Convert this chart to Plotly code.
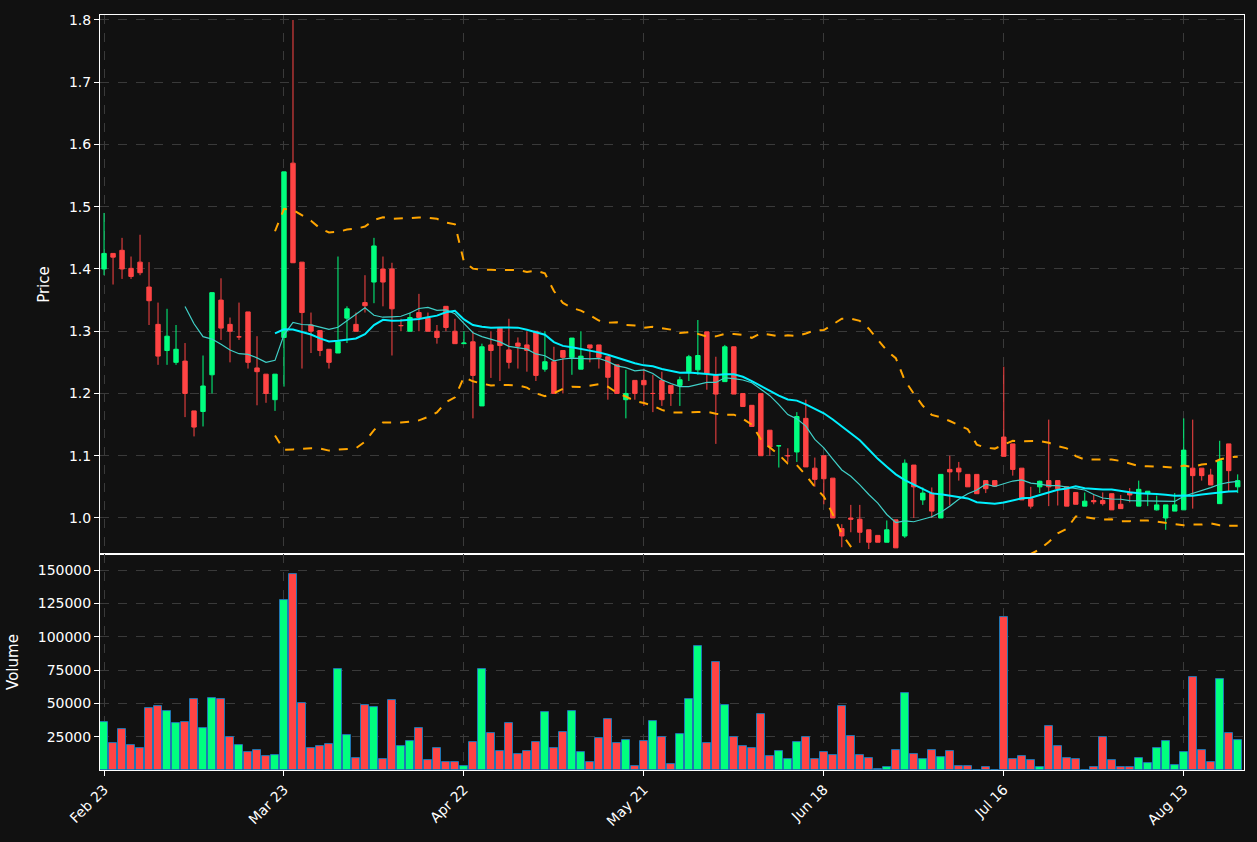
import numpy as np
import pandas as pd
import plotly.graph_objects as go
from plotly.subplots import make_subplots

# daily bars (index 0 = Feb 23)
opens = [1.40, 1.425, 1.43, 1.401, 1.411, 1.371, 1.311, 1.269, 1.25, 1.252,
         1.172, 1.171, 1.23, 1.35, 1.311, 1.291, 1.331, 1.241, 1.231, 1.19,
         1.29, 1.57, 1.411, 1.31, 1.301, 1.271, 1.265, 1.321, 1.311, 1.346,
         1.379, 1.40, 1.40, 1.309, 1.30, 1.33, 1.321, 1.30, 1.34, 1.30,
         1.28, 1.283, 1.18, 1.278, 1.306, 1.27, 1.281, 1.278, 1.30, 1.239,
         1.251, 1.269, 1.258, 1.239, 1.278, 1.278, 1.259, 1.246, 1.19, 1.221,
         1.221, 1.20, 1.221, 1.213, 1.213, 1.235, 1.238, 1.299, 1.23, 1.219,
         1.275, 1.20, 1.181, 1.20, 1.141, 1.116, 1.10, 1.106, 1.16, 1.08,
         1.10, 1.064, 0.983, 1.0, 0.998, 0.981, 0.972, 0.961, 0.997, 0.971,
         1.085, 1.029, 1.04, 1.0, 1.078, 1.08, 1.07, 1.07, 1.06, 1.06,
         1.13, 1.119, 1.08, 1.031, 1.05, 1.06, 1.06, 1.05, 1.041, 1.019,
         1.028, 1.028, 1.039, 1.022, 1.041, 1.019, 1.039, 1.013, 1.0, 1.011,
         1.013, 1.08, 1.08, 1.069, 1.023, 1.119, 1.05]
highs = [1.49, 1.425, 1.45, 1.42, 1.455, 1.411, 1.346, 1.336, 1.31, 1.281,
         1.172, 1.261, 1.362, 1.385, 1.322, 1.346, 1.331, 1.292, 1.231, 1.231,
         1.556, 1.80, 1.411, 1.33, 1.301, 1.271, 1.42, 1.34, 1.33, 1.39,
         1.45, 1.42, 1.41, 1.32, 1.33, 1.36, 1.33, 1.31, 1.34, 1.32,
         1.30, 1.30, 1.28, 1.30, 1.306, 1.32, 1.29, 1.30, 1.30, 1.30,
         1.275, 1.269, 1.289, 1.30, 1.278, 1.278, 1.259, 1.246, 1.238, 1.221,
         1.24, 1.23, 1.235, 1.213, 1.227, 1.262, 1.318, 1.299, 1.259, 1.278,
         1.275, 1.2, 1.173, 1.2, 1.141, 1.116, 1.112, 1.17, 1.19, 1.097,
         1.10, 1.064, 0.99, 1.021, 1.021, 0.981, 0.972, 0.996, 0.997, 1.094,
         1.085, 1.049, 1.049, 1.07, 1.1, 1.09, 1.07, 1.07, 1.06, 1.06,
         1.243, 1.119, 1.08, 1.05, 1.06, 1.158, 1.06, 1.05, 1.041, 1.041,
         1.037, 1.041, 1.039, 1.037, 1.048, 1.06, 1.043, 1.036, 1.021, 1.04,
         1.16, 1.158, 1.08, 1.079, 1.124, 1.119, 1.07]
lows = [1.39, 1.375, 1.384, 1.384, 1.39, 1.31, 1.246, 1.246, 1.246, 1.162,
        1.131, 1.147, 1.20, 1.286, 1.25, 1.286, 1.24, 1.181, 1.185, 1.172,
        1.211, 1.41, 1.24, 1.265, 1.26, 1.24, 1.265, 1.281, 1.30, 1.33,
        1.345, 1.34, 1.261, 1.30, 1.30, 1.30, 1.30, 1.28, 1.30, 1.28,
        1.28, 1.16, 1.18, 1.225, 1.22, 1.24, 1.24, 1.235, 1.22, 1.235,
        1.20, 1.20, 1.23, 1.239, 1.25, 1.24, 1.19, 1.20, 1.16, 1.19,
        1.18, 1.17, 1.18, 1.18, 1.18, 1.22, 1.23, 1.206, 1.119, 1.219,
        1.199, 1.179, 1.147, 1.10, 1.10, 1.081, 1.09, 1.09, 1.082, 1.05,
        1.022, 1.0, 0.953, 0.977, 0.96, 0.95, 0.961, 0.961, 0.952, 0.968,
        1.0, 1.021, 1.0, 1.0, 1.02, 1.06, 1.05, 1.039, 1.04, 1.051,
        1.099, 1.068, 1.029, 1.015, 1.04, 1.019, 1.02, 1.019, 1.022, 1.019,
        1.022, 1.02, 1.013, 1.015, 1.025, 1.019, 1.019, 1.012, 0.981, 1.011,
        1.013, 1.015, 1.06, 1.053, 1.023, 1.042, 1.04]
closes = [1.425, 1.419, 1.40, 1.388, 1.394, 1.349, 1.26, 1.292, 1.271, 1.20,
          1.146, 1.212, 1.362, 1.305, 1.30, 1.291, 1.25, 1.235, 1.20, 1.231,
          1.556, 1.41, 1.33, 1.30, 1.269, 1.25, 1.283, 1.336, 1.30, 1.341,
          1.437, 1.379, 1.336, 1.309, 1.322, 1.322, 1.30, 1.29, 1.306, 1.28,
          1.281, 1.229, 1.275, 1.269, 1.277, 1.25, 1.276, 1.269, 1.229, 1.251,
          1.20, 1.258, 1.289, 1.26, 1.273, 1.258, 1.226, 1.20, 1.20, 1.20,
          1.214, 1.20, 1.19, 1.20, 1.222, 1.259, 1.261, 1.232, 1.199, 1.275,
          1.199, 1.179, 1.147, 1.10, 1.114, 1.116, 1.10, 1.163, 1.082, 1.062,
          1.063, 1.0, 0.971, 0.998, 0.977, 0.961, 0.961, 0.981, 0.952, 1.088,
          1.05, 1.04, 1.011, 1.07, 1.074, 1.074, 1.05, 1.039, 1.047, 1.051,
          1.099, 1.078, 1.029, 1.019, 1.059, 1.05, 1.047, 1.019, 1.022, 1.027,
          1.026, 1.023, 1.013, 1.015, 1.037, 1.046, 1.043, 1.021, 1.021, 1.021,
          1.109, 1.068, 1.068, 1.053, 1.092, 1.076, 1.06]
volumes = [35900, 20500, 30900, 19000, 16100, 46500, 48000, 44000, 35400, 36100,
           53200, 31700, 54000, 53200, 25000, 19000, 13100, 15300, 10100, 10900,
           127500, 146800, 50200, 16100, 18300, 19800, 75500, 26500, 8700, 48800,
           47300, 7900, 52500, 17600, 22000, 31700, 7200, 16100, 5700, 5700,
           2700, 21300, 75500, 28000, 13900, 35400, 11600, 13900, 21300, 43600,
           16100, 28700, 44300, 13100, 5700, 24300, 38400, 20500, 22800, 3200,
           22000, 36900, 25000, 4200, 27200, 53200, 93300, 20500, 80700, 48800,
           25000, 17600, 16100, 42100, 10100, 13900, 7900, 21300, 25000, 7900,
           13100, 10900, 48000, 25700, 10900, 8700, 500, 2000, 14600, 57700,
           11600, 7900, 14600, 9400, 13900, 2700, 2700, 300, 2000, 300,
           114800, 7900, 10100, 7200, 2000, 33200, 18300, 8700, 7900, 300,
           2000, 25000, 7200, 2000, 2000, 8700, 5000, 16100, 22000, 3500,
           13100, 69500, 14600, 5700, 68100, 28000, 22800]
tick_idx = [0, 20, 40, 60, 80, 100, 120]
tick_labels = ["Feb 23", "Mar 23", "Apr 22", "May 21", "Jun 18", "Jul 16", "Aug 13"]

UP = "#00ff7f"
DOWN = "#ff4444"
BG = "#111111"

x = np.arange(len(closes))
df = pd.DataFrame({"o": opens, "h": highs, "l": lows, "c": closes, "v": volumes})
ma10 = df["c"].rolling(10).mean()
ma20 = df["c"].rolling(20).mean()
sd20 = df["c"].rolling(20).std()
upper = ma20 + 2 * sd20
lower = ma20 - 2 * sd20
bar_colours = [UP if c >= o else DOWN for o, c in zip(opens, closes)]

fig = make_subplots(rows=2, cols=1, shared_xaxes=True, vertical_spacing=0,
                    row_heights=[0.714, 0.286])

fig.add_trace(go.Candlestick(
    x=x, open=df["o"], high=df["h"], low=df["l"], close=df["c"],
    increasing=dict(line=dict(color=UP, width=1), fillcolor=UP),
    decreasing=dict(line=dict(color=DOWN, width=1), fillcolor=DOWN),
    whiskerwidth=0,
), row=1, col=1)
fig.add_trace(go.Scatter(x=x, y=ma10, mode="lines",
                         line=dict(color="#40d0c8", width=1.2)), row=1, col=1)
fig.add_trace(go.Scatter(x=x, y=ma20, mode="lines",
                         line=dict(color="#00f0ff", width=2)), row=1, col=1)
for band in (upper, lower):
    fig.add_trace(go.Scatter(x=x, y=band, mode="lines",
                             line=dict(color="orange", width=2, dash="dash")),
                  row=1, col=1)

fig.add_trace(go.Bar(x=x, y=df["v"], marker=dict(color=bar_colours,
                     line=dict(color="#1f77b4", width=1)), width=0.9),
              row=2, col=1)

grid = dict(showgrid=True, gridcolor="#3a3a3a", griddash="dash", gridwidth=1,
            showline=True, linecolor="white", linewidth=1, mirror=True,
            zeroline=False, color="white")
fig.update_xaxes(**grid, range=[-0.45, 126.7], tickmode="array",
                 tickvals=tick_idx, ticktext=tick_labels, ticks="outside",
                 tickcolor="white", rangeslider_visible=False)
fig.update_xaxes(tickangle=-45, row=2, col=1)
fig.update_yaxes(**grid, ticks="outside", tickcolor="white")
fig.update_yaxes(title_text="Price", range=[0.942, 1.808], dtick=0.1,
                 tickformat=".1f", row=1, col=1)
fig.update_yaxes(title_text="Volume", range=[0, 162000], tickformat="d",
                 tickvals=[25000, 50000, 75000, 100000, 125000, 150000],
                 row=2, col=1)

fig.update_layout(
    width=1257, height=842, showlegend=False,
    paper_bgcolor=BG, plot_bgcolor=BG,
    font=dict(family="DejaVu Sans", size=14, color="white"),
    margin=dict(l=100, r=12, t=12, b=72),
    bargap=0,
)
fig.update_yaxes(title_font_size=15)

fig.write_html("out.html", config={"displayModeBar": False},
               post_script="document.body.style.margin='0';"
                           "document.body.style.background='#111111';")
